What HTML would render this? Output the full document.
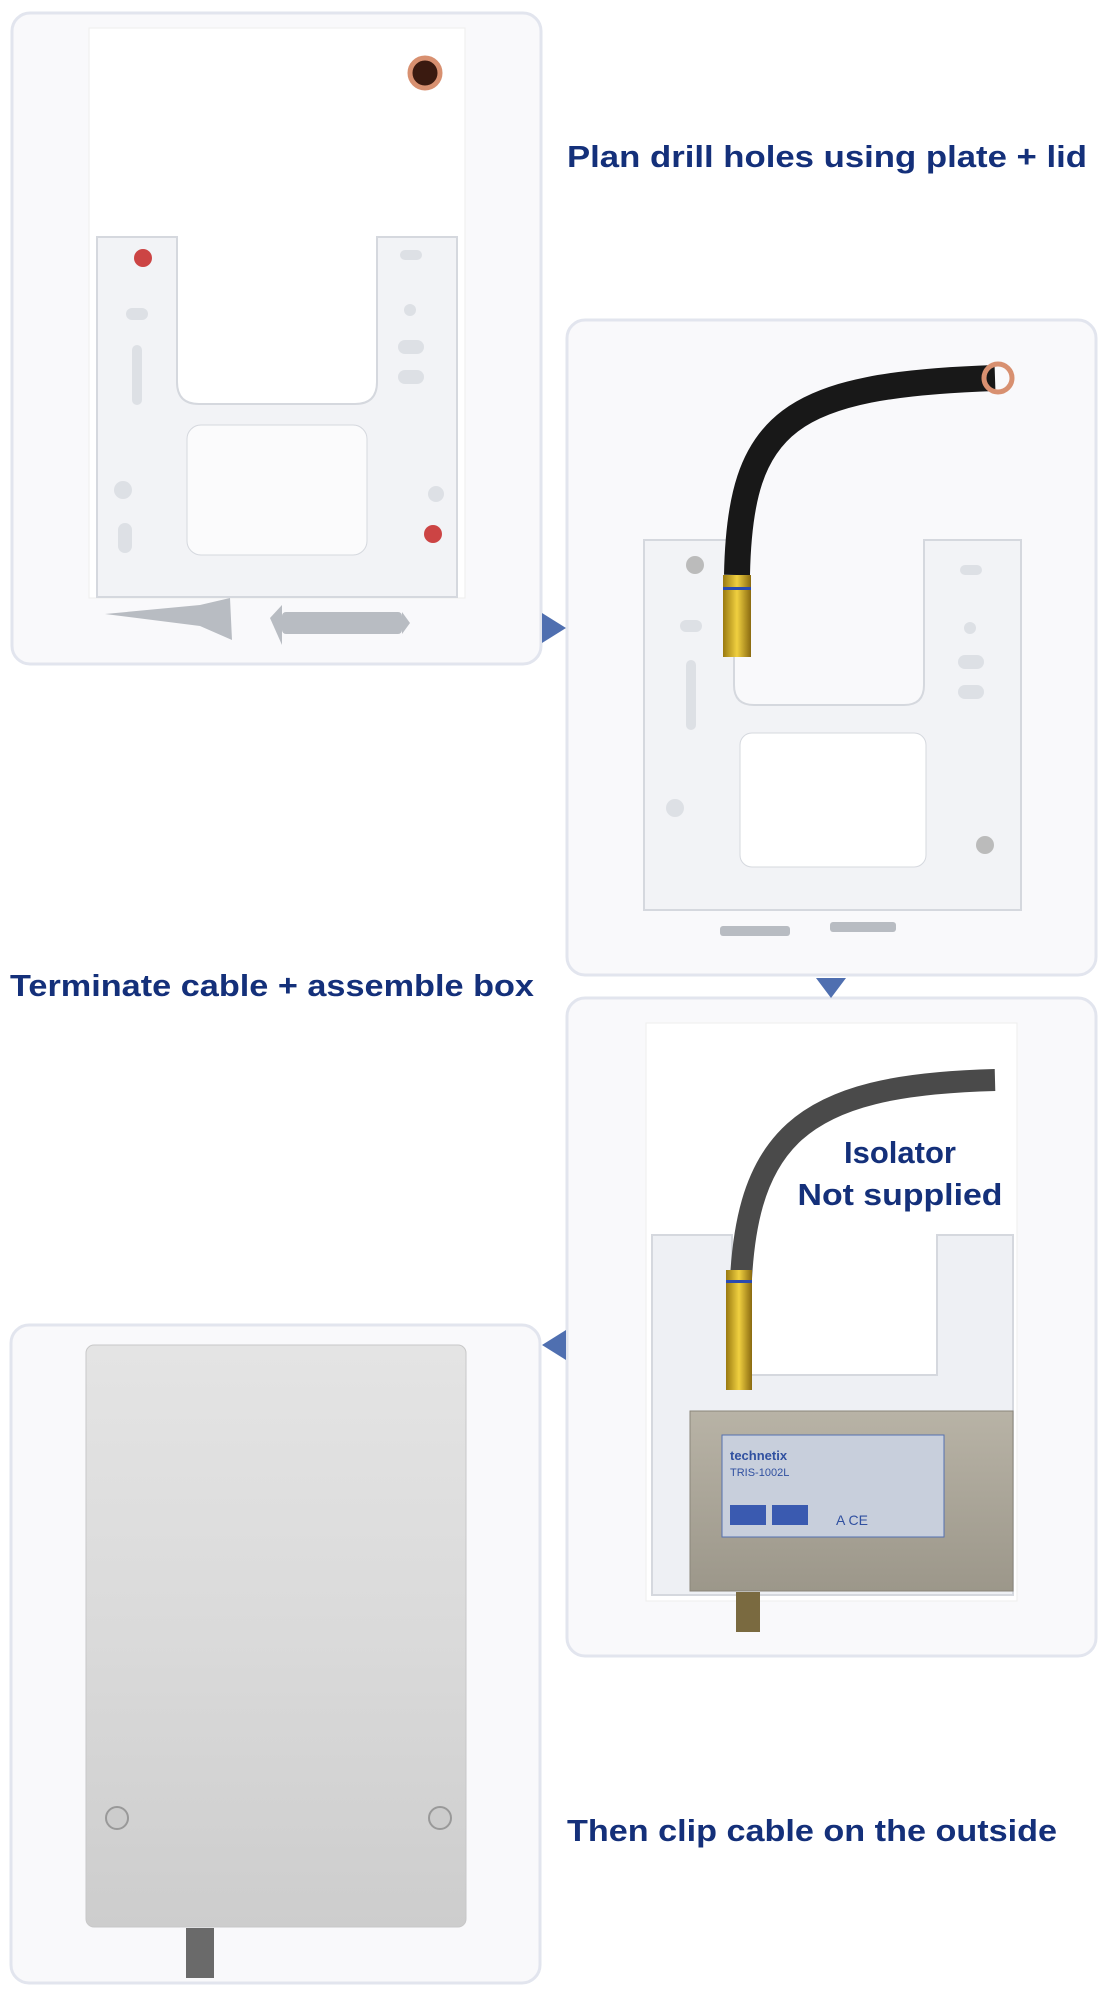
<!DOCTYPE html>
<html><head><meta charset="utf-8"><style>
html,body{margin:0;padding:0;background:#fff;width:1111px;height:2000px;overflow:hidden}
svg{display:block}
text{font-family:"Liberation Sans",sans-serif;font-weight:bold;fill:#14307a}
</style></head><body>
<svg width="1111" height="2000" viewBox="0 0 1111 2000">
<defs>
<linearGradient id="lid" x1="0" y1="0" x2="0" y2="1"><stop offset="0" stop-color="#e4e4e4"/><stop offset="0.5" stop-color="#dadada"/><stop offset="1" stop-color="#cdcdcd"/></linearGradient>
<linearGradient id="box" x1="0" y1="0" x2="0" y2="1"><stop offset="0" stop-color="#b8b3a6"/><stop offset="1" stop-color="#9c978a"/></linearGradient>
<linearGradient id="gold" x1="0" y1="0" x2="1" y2="0"><stop offset="0" stop-color="#9a7a10"/><stop offset="0.5" stop-color="#f0d040"/><stop offset="1" stop-color="#8a6a10"/></linearGradient>
</defs>
<!-- panels -->
<g fill="#f9f9fb" stroke="#e2e5ee" stroke-width="3">
<rect x="12" y="13" width="529" height="651" rx="18"/>
<rect x="567" y="320" width="529" height="655" rx="18"/>
<rect x="567" y="998" width="529" height="658" rx="18"/>
<rect x="11" y="1325" width="529" height="658" rx="18"/>
</g>
<!-- connectors -->
<g fill="#4f6fb0">
<path d="M542,613 L566,628 L542,643 Z"/>
<path d="M816,978 L846,978 L831,998 Z"/>
<path d="M566,1330 L542,1345 L566,1360 Z"/>
</g>
<!-- panel 1 -->
<rect x="89" y="28" width="376" height="570" fill="#fff" stroke="#eee"/>
<circle cx="425" cy="73" r="15" fill="#3a1a10" stroke="#d89070" stroke-width="5"/>
<path d="M97,237 h80 v145 q0,22 22,22 h156 q22,0 22,-22 v-145 h80 v360 h-360 Z" fill="#f2f3f6" stroke="#d5d8de" stroke-width="2"/>
<rect x="187" y="425" width="180" height="130" rx="14" fill="#fbfbfc" stroke="#d5d8de"/>
<circle cx="143" cy="258" r="9" fill="#c44"/>
<circle cx="433" cy="534" r="9" fill="#c44"/>
<g fill="#dde0e5"><rect x="126" y="308" width="22" height="12" rx="6"/><rect x="132" y="345" width="10" height="60" rx="5"/><circle cx="123" cy="490" r="9"/><rect x="118" y="523" width="14" height="30" rx="7"/><rect x="400" y="250" width="22" height="10" rx="5"/><circle cx="410" cy="310" r="6"/><rect x="398" y="340" width="26" height="14" rx="7"/><rect x="398" y="370" width="26" height="14" rx="7"/><circle cx="436" cy="494" r="8"/></g>
<g fill="#b8bcc2"><path d="M105,614 L200,605 L230,598 L232,640 L200,626 Z"/><path d="M270,618 L282,605 L282,645 Z"/><rect x="282" y="612" width="120" height="22" rx="4"/><path d="M402,612 L410,623 L402,634 Z"/></g>
<!-- panel 2 -->
<path d="M644,540 h90 v145 q0,20 20,20 h150 q20,0 20,-20 v-145 h97 v370 h-377 Z" fill="#f2f3f6" stroke="#d5d8de" stroke-width="2"/>
<rect x="740" y="733" width="186" height="134" rx="12" fill="#fff" stroke="#d5d8de"/>
<circle cx="695" cy="565" r="9" fill="#bbb"/><circle cx="985" cy="845" r="9" fill="#bbb"/>
<g fill="#dde0e5"><rect x="680" y="620" width="22" height="12" rx="6"/><rect x="686" y="660" width="10" height="70" rx="5"/><circle cx="675" cy="808" r="9"/><rect x="960" y="565" width="22" height="10" rx="5"/><circle cx="970" cy="628" r="6"/><rect x="958" y="655" width="26" height="14" rx="7"/><rect x="958" y="685" width="26" height="14" rx="7"/></g>
<path d="M737,575 C740,420 790,385 995,378" fill="none" stroke="#181818" stroke-width="26"/>
<circle cx="998" cy="378" r="14" fill="none" stroke="#d89070" stroke-width="5"/>
<rect x="723" y="575" width="28" height="82" fill="url(#gold)"/>
<rect x="723" y="587" width="28" height="3" fill="#2a4ab0"/>
<g fill="#b8bcc2"><rect x="720" y="926" width="70" height="10" rx="3"/><rect x="830" y="922" width="66" height="10" rx="3"/></g>
<!-- panel 3 -->
<rect x="646" y="1023" width="371" height="578" fill="#fff" stroke="#eee"/>
<path d="M652,1235 h80 v140 h205 v-140 h76 v360 h-361 Z" fill="#eef0f4" stroke="#d5d8de" stroke-width="2"/>
<path d="M740,1315 C740,1135 800,1085 995,1080" fill="none" stroke="#4a4a4a" stroke-width="22"/>
<rect x="726" y="1270" width="26" height="120" fill="url(#gold)"/>
<rect x="726" y="1280" width="26" height="3" fill="#2a4ab0"/>
<rect x="690" y="1411" width="323" height="180" fill="url(#box)" stroke="#8a867a"/>
<rect x="722" y="1435" width="222" height="102" fill="#c8cfdc" stroke="#5570b0"/>
<text x="730" y="1460" style="font-size:13px;fill:#3050a0">technetix</text>
<text x="730" y="1476" style="font-size:11px;font-weight:normal;fill:#3050a0">TRIS-1002L</text>
<rect x="730" y="1505" width="36" height="20" fill="#3a5ab0"/><rect x="772" y="1505" width="36" height="20" fill="#3a5ab0"/>
<text x="836" y="1525" style="font-size:14px;font-weight:normal;fill:#3050a0">A  CE</text>
<rect x="736" y="1592" width="24" height="40" fill="#7a6a40"/>
<text x="900" y="1163" text-anchor="middle" style="font-size:31px">Isolator</text>
<text x="900" y="1205" text-anchor="middle" style="font-size:31px" textLength="205" lengthAdjust="spacingAndGlyphs">Not supplied</text>
<!-- panel 4 -->
<rect x="86" y="1345" width="380" height="582" rx="8" fill="url(#lid)" stroke="#c8c8c8"/>
<circle cx="117" cy="1818" r="11" fill="#ccc" stroke="#999" stroke-width="2"/>
<circle cx="440" cy="1818" r="11" fill="#ccc" stroke="#999" stroke-width="2"/>
<rect x="186" y="1928" width="28" height="50" fill="#6a6a6a"/>
<!-- labels -->
<text x="567" y="167" style="font-size:31px" textLength="520" lengthAdjust="spacingAndGlyphs">Plan drill holes using plate + lid</text>
<text x="10" y="996" style="font-size:31px" textLength="524" lengthAdjust="spacingAndGlyphs">Terminate cable + assemble box</text>
<text x="567" y="1841" style="font-size:31px" textLength="490" lengthAdjust="spacingAndGlyphs">Then clip cable on the outside</text>
</svg>
</body></html>
